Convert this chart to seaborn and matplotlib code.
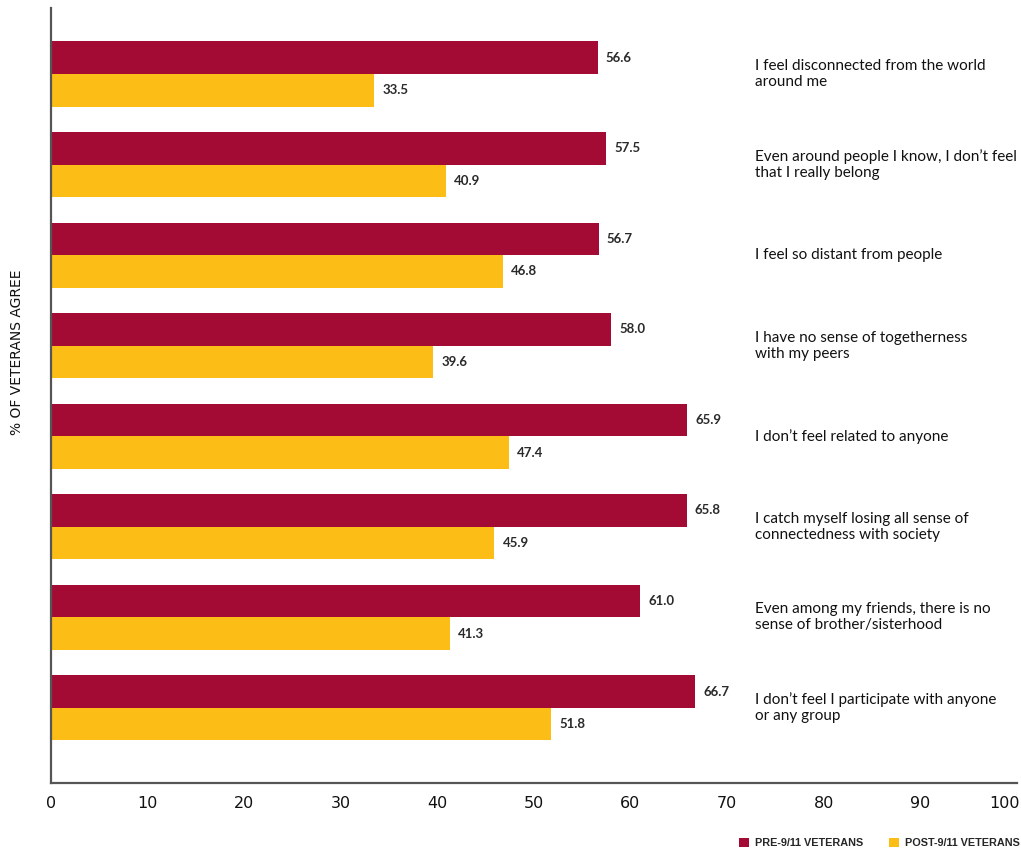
import matplotlib
matplotlib.use("Agg")
import matplotlib.pyplot as plt
import matplotlib.transforms as mtransforms
import seaborn as sns
import pandas as pd
from matplotlib.patches import Patch

# Survey statements (line breaks chosen for the right-hand label column)
statements = [
    "I feel disconnected from the world\naround me",
    "Even around people I know, I don\u2019t feel\nthat I really belong",
    "I feel so distant from people",
    "I have no sense of togetherness\nwith my peers",
    "I don\u2019t feel related to anyone",
    "I catch myself losing all sense of\nconnectedness with society",
    "Even among my friends, there is no\nsense of brother/sisterhood",
    "I don\u2019t feel I participate with anyone\nor any group",
]
pre_911 = [56.6, 57.5, 56.7, 58.0, 65.9, 65.8, 61.0, 66.7]
post_911 = [33.5, 40.9, 46.8, 39.6, 47.4, 45.9, 41.3, 51.8]
groups = ["PRE-9/11 VETERANS", "POST-9/11 VETERANS"]
colors = ["#A30B35", "#FDBD17"]
x_ticks = [0, 10, 20, 30, 40, 50, 60, 70, 80, 90, 100]

df = pd.DataFrame({
    "statement": statements * 2,
    "pct": pre_911 + post_911,
    "group": [groups[0]] * len(statements) + [groups[1]] * len(statements),
})

sns.set_style("white")
plt.rcParams["font.family"] = ["Lato", "DejaVu Sans"]

fig = plt.figure(figsize=(10.21, 8.5), dpi=100)
ax = fig.add_axes([50.7 / 1021, 1 - 783 / 850, (1017 - 50.7) / 1021, (783 - 8) / 850])

sns.barplot(data=df, x="pct", y="statement", hue="group", order=statements,
            hue_order=groups, palette=colors, orient="h", width=0.72, gap=0,
            saturation=1, legend=False, ax=ax, errorbar=None, linewidth=0)

for container in ax.containers:
    ax.bar_label(container, fmt="%.1f", padding=6, fontsize=9.5,
                 color="#2a2a2a", family="Lato", fontweight="bold")

ax.set_xlim(0, 100)
ax.set_ylim(7.83, -0.73)
ax.set_xticks(x_ticks)
ax.set_xticklabels([str(t) for t in x_ticks], fontsize=11.5, family="DejaVu Sans")
ax.set_yticks([])
ax.set_ylabel("")
ax.set_xlabel("")
ax.tick_params(axis="x", direction="in", length=22, width=1, color="#222222",
               pad=9, labelcolor="#111111")

# Keep the final tick label inside the figure edge
last = ax.get_xticklabels()[-1]
last.set_horizontalalignment("right")
last.set_transform(last.get_transform() +
                   mtransforms.ScaledTranslation(3 / 100, 0, fig.dpi_scale_trans))

for side in ["top", "right"]:
    ax.spines[side].set_visible(False)
for side in ["left", "bottom"]:
    ax.spines[side].set_color("#555555")
    ax.spines[side].set_linewidth(1.6)

# Statement text in the open space to the right of the bars
for i, s in enumerate(statements):
    ax.text(72.9, i, s, ha="left", va="center", fontsize=11, color="#111111",
            family="Lato", linespacing=1.15)

fig.text(17 / 1021, 1 - 352 / 850, "% OF VETERANS AGREE", rotation=90,
         ha="center", va="center", fontsize=10, color="#111111",
         family="DejaVu Sans")

handles = [Patch(facecolor=c, edgecolor="none") for c in colors]
fig.legend(handles, groups, loc="lower right", bbox_to_anchor=(1.008, -0.009),
           ncol=2, frameon=False, handlelength=0.95, handleheight=0.95,
           handletextpad=0.5, columnspacing=2.4,
           prop={"family": "Liberation Sans", "weight": "bold", "size": 7.8})

fig.savefig("out.png", dpi=100)
